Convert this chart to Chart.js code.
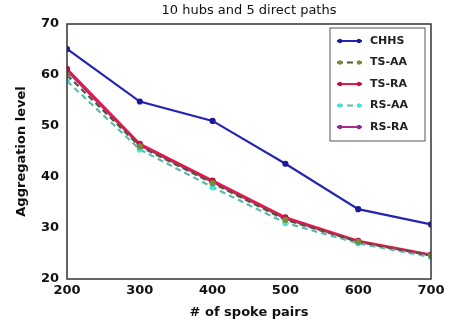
<!DOCTYPE html>
<html>
<head>
<meta charset="utf-8">
<script src="https://cdn.jsdelivr.net/npm/chart.js@4"></script>
<style>
  body { margin: 0; background: #fff; }
  canvas { display: block; }
</style>
</head>
<body>
<canvas id="myChart" width="456" height="324"></canvas>
<script>
const spokePairs = [200, 300, 400, 500, 600, 700];
const chhs = [65.1, 54.8, 51.0, 42.6, 33.7, 30.7];
const tsAA = [60.0, 46.0, 38.8, 31.6, 27.3, 24.6];
const tsRA = [61.2, 46.5, 39.3, 32.1, 27.5, 24.8];
const rsAA = [58.8, 45.4, 38.0, 31.0, 27.0, 24.3];
const rsRA = [60.8, 46.2, 39.0, 31.8, 27.3, 24.6];
const yTicks = [20, 30, 40, 50, 60, 70];
const chartTitle = '10 hubs and 5 direct paths';

function pts(vals) {
  return vals.map((v, i) => ({ x: spokePairs[i], y: v }));
}

const fam = "'DejaVu Sans', sans-serif";

// matplotlib style frame, title over the axes and legend with line samples
const framePlugin = {
  id: 'frame',
  afterDatasetsDraw(chart) {
    const c = chart.ctx, a = chart.chartArea;
    c.save();
    c.strokeStyle = '#333';
    c.lineWidth = 1.5;
    c.strokeRect(a.left, a.top, a.right - a.left, a.bottom - a.top);

    c.fillStyle = '#111';
    c.font = "13px " + fam;
    c.textAlign = 'center';
    c.textBaseline = 'middle';
    c.fillText(chartTitle, (a.left + a.right) / 2, 11);
    c.textAlign = 'left';

    // legend box
    const bx = 330, by = 28, bw = 95, bh = 113;
    c.fillStyle = '#fff';
    c.fillRect(bx, by, bw, bh);
    c.strokeStyle = '#555';
    c.lineWidth = 1;
    c.strokeRect(bx, by, bw, bh);
    chart.data.datasets.forEach((ds, i) => {
      const y = by + 13 + i * 21.5;
      c.strokeStyle = ds.borderColor;
      c.lineWidth = 2;
      c.setLineDash(ds.borderDash || []);
      c.beginPath();
      c.moveTo(337, y);
      c.lineTo(362, y);
      c.stroke();
      c.setLineDash([]);
      c.fillStyle = ds.pointBackgroundColor;
      [340, 359].forEach(px => {
        c.beginPath();
        c.arc(px, y, 2.2, 0, Math.PI * 2);
        c.fill();
      });
      c.fillStyle = '#222';
      c.font = "bold 11px " + fam;
      c.textBaseline = 'middle';
      c.fillText(ds.label, 370, y);
    });
    c.restore();
  }
};

function series(label, vals, color, markColor, dash) {
  return {
    label: label,
    data: pts(vals),
    borderColor: color,
    backgroundColor: markColor,
    pointBackgroundColor: markColor,
    pointBorderColor: markColor,
    pointRadius: 2,
    borderWidth: 2.2,
    borderDash: dash,
    fill: false,
    tension: 0
  };
}

new Chart(document.getElementById('myChart'), {
  type: 'line',
  data: {
    datasets: [
      series('CHHS', chhs, '#2323b4', '#1a1a9a', []),
      series('TS-AA', tsAA, '#4d5a3a', '#7a8a3a', [6, 4]),
      series('TS-RA', tsRA, '#e8174a', '#c01040', []),
      series('RS-AA', rsAA, '#5fb8b0', '#3ee8d8', [6, 4]),
      series('RS-RA', rsRA, '#b02a8c', '#8a2a9a', [])
    ]
  },
  plugins: [framePlugin],
  options: {
    responsive: false,
    animation: false,
    layout: { padding: { left: 8, right: 25, top: 24, bottom: 0 } },
    plugins: {
      legend: { display: false },
      tooltip: { enabled: false },
      title: { display: false }
    },
    scales: {
      x: {
        type: 'linear',
        min: 200,
        max: 700,
        grid: { display: false, drawTicks: false },
        border: { display: false },
        afterBuildTicks(s) { s.ticks = spokePairs.map(v => ({ value: v })); },
        afterFit(s) { s.height = 45; },
        ticks: { color: '#111', font: { family: fam, size: 13, weight: 'bold' }, padding: 4, maxRotation: 0 },
        title: { display: true, text: '# of spoke pairs', color: '#111', font: { family: fam, size: 13, weight: 'bold' }, padding: { top: 2, bottom: 4 } }
      },
      y: {
        min: 20,
        max: 70,
        grid: { display: false, drawTicks: false },
        border: { display: false },
        afterBuildTicks(s) { s.ticks = yTicks.map(v => ({ value: v })); },
        afterFit(s) { s.width = 59; },
        ticks: { color: '#111', font: { family: fam, size: 13, weight: 'bold' }, padding: 8 },
        title: { display: true, text: 'Aggregation level', color: '#111', font: { family: fam, size: 13, weight: 'bold' }, padding: { top: 6, bottom: 0 } }
      }
    }
  }
});
</script>
</body>
</html>
